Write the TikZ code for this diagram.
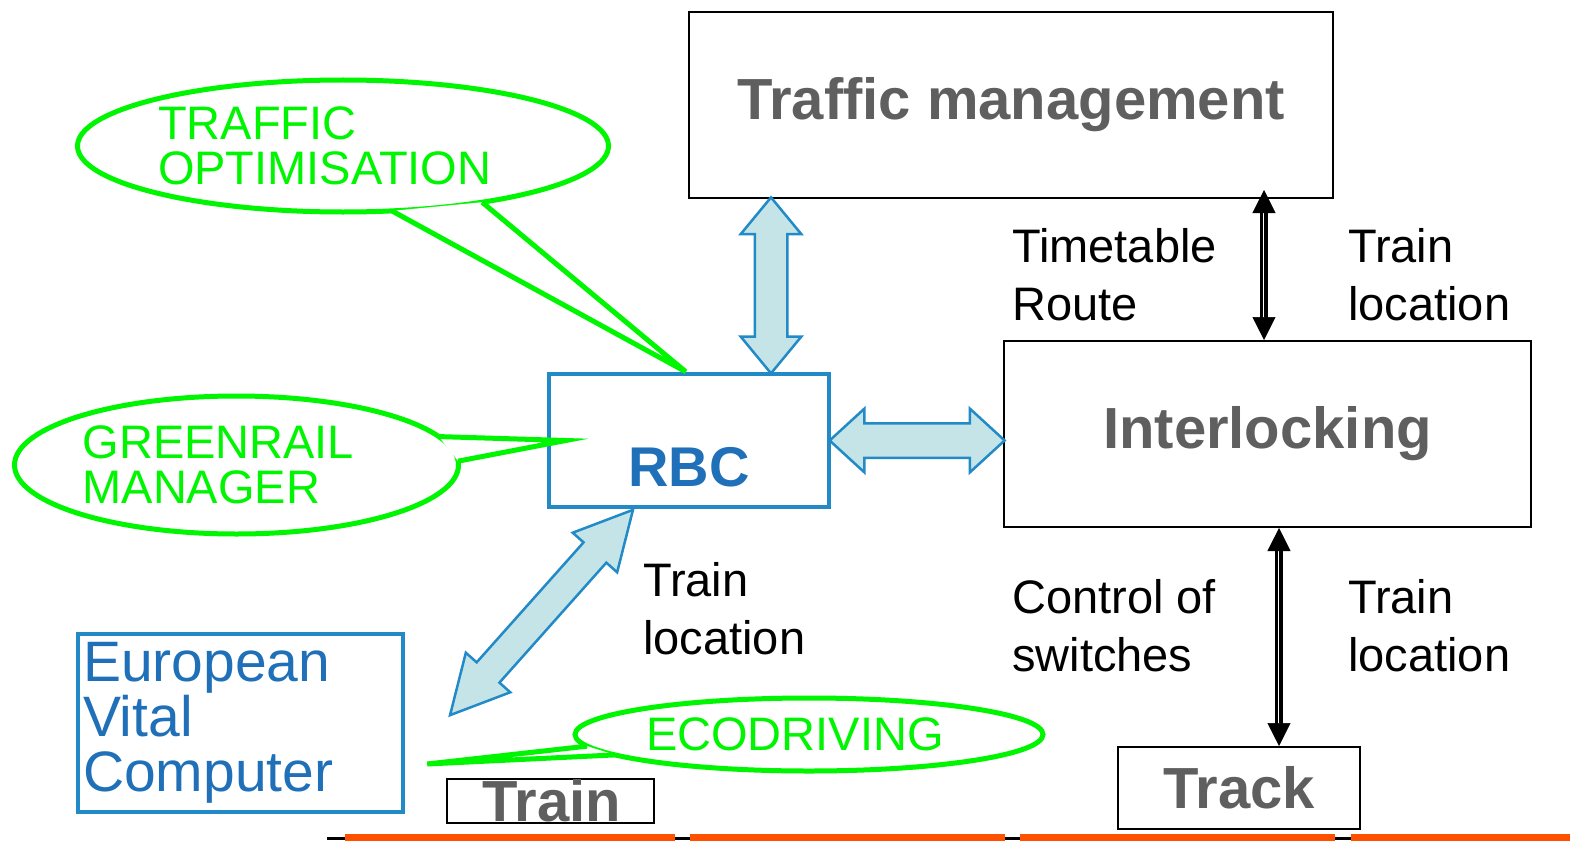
\documentclass[tikz,border=0pt]{standalone}
\usepackage{fontspec}
\setmainfont{Liberation Sans}
\usepackage{tikz}
\usetikzlibrary{arrows.meta,shapes.geometric,shapes.arrows,calc}

\definecolor{boxgray}{RGB}{95,95,95}
\definecolor{rbcblue}{RGB}{33,138,199}
\definecolor{rbctext}{RGB}{31,112,184}
\definecolor{pipefill}{RGB}{197,228,232}
\definecolor{calloutgreen}{RGB}{0,245,0}
\definecolor{railorange}{RGB}{255,80,0}

\tikzset{
	blackbox/.style={draw=black, line width=2pt, inner sep=0pt, text=boxgray,
		font=\fontsize{58}{58}\selectfont\bfseries},
	bluebox/.style={draw=rbcblue, line width=4.5pt, inner sep=0pt},
	fatarrow/.style={double arrow, draw=rbcblue, fill=pipefill, line width=2.5pt,
		inner xsep=0pt, outer sep=0pt, minimum width=0pt},
	callout/.style={ellipse, draw=calloutgreen, fill=white, line width=5pt,
		inner sep=0pt, outer sep=0pt, text=calloutgreen, align=left,
		font=\fontsize{47}{45}\selectfont},
	tail/.style={draw=calloutgreen, fill=white, line width=5pt},
	lbl/.style={inner sep=0pt, align=left, anchor=north west,
		font=\fontsize{47}{58}\selectfont},
	dbl/.style={double, double distance=2.7pt, line width=2.3pt,
		shorten <=20pt, shorten >=20pt},
	dtip/.style={{Triangle[length=23pt,width=23pt]}-{Triangle[length=23pt,width=23pt]},
		line width=0.5pt}
}

\begin{document}
\begin{tikzpicture}[x=1pt,y=-1pt]
	\useasboundingbox (0,0) rectangle (1570,840);
	\node[blackbox, minimum width=644, minimum height=186] (tm) at (1011,105) {Traffic management};
	\node[blackbox, minimum width=527, minimum height=186] (il) at (1267.5,434) {Interlocking};
	\node[blackbox, minimum width=242, minimum height=82] (track) at (1239,788) {Track};
	\node[blackbox, minimum width=207, minimum height=44] (train) at (550.5,801) {};
	\node[anchor=base, inner sep=0pt, text=boxgray, font=\fontsize{58}{58}\selectfont\bfseries]
		(traintext) at ([xshift=1.5pt,yshift=3pt]train.south) {Train};
	\node[bluebox, minimum width=280, minimum height=133] (rbc) at (689,440.5) {};
	\node[inner sep=0pt, text=rbctext, font=\fontsize{56}{56}\selectfont\bfseries]
		(rbctxt) at ([yshift=-26.5pt]rbc.center) {RBC};
	\node[bluebox, minimum width=325, minimum height=178, text width=315, align=left,
		text=rbctext, font=\fontsize{57}{55}\selectfont] (evc) at (240.5,723) {European\\Vital\\Computer};

	\node[lbl] (ttroute) at (1012,228) {Timetable\\Route};
	\node[lbl] (locup) at (1348,228) {Train\\location};
	\node[lbl] (switches) at (1012,579) {Control of\\switches};
	\node[lbl] (locdown) at (1348,579) {Train\\location};
	\node[lbl] (locrbc) at (643,562) {Train\\location};

	\path (tm.south west) ++(83,0) coordinate (tmport) (tmport |- rbc.north) coordinate (rbcport);
	\node[fatarrow, minimum height=176, inner ysep=15pt, double arrow head extend=14,
		double arrow tip angle=79, rotate=90] (tmrbc) at ($(tmport)!.5!(rbcport)$) {};
	\node[fatarrow, minimum height=175, inner ysep=16pt, double arrow head extend=14.5,
		double arrow tip angle=85] (rbcil) at ($(rbc.east)!.5!(rbc.east -| il.west)$) {};
	\path (rbc.south west) ++(84,3) coordinate (rbcfoot) (evc.north east) ++(47,81) coordinate (evchead);
	\node[fatarrow, minimum height=275, inner ysep=14pt, double arrow head extend=14.5,
		double arrow tip angle=55, rotate=48.3] (rbcevc) at ($(rbcfoot)!.5!(evchead)$) {};

	\path ([xshift=-3.5pt]il.north) coordinate (ilup) (ilup |- tm.south) ++(0,-9) coordinate (tmdown);
	\draw[dbl] (tmdown) -- (ilup);
	\draw[dtip] (tmdown) -- (ilup);
	\path ([xshift=11.5pt]il.south) coordinate (ildown) (ildown |- track.north) coordinate (trackup);
	\draw[dbl] (ildown) -- (trackup);
	\draw[dtip] (ildown) -- (trackup);

	\node[callout, minimum width=531, minimum height=132, text width=370] (opt) at (343,146) {TRAFFIC\\OPTIMISATION};
	\coordinate (opttip) at ([xshift=139pt]rbc.north west);
	\draw[tail] (opt.-53.6) -- (opttip) -- (opt.-22.2);
	\node[callout, minimum width=444, minimum height=138, text width=308] (grm) at (236.5,465) {GREENRAIL\\MANAGER};
	\coordinate (grmtip) at ([xshift=19pt]rbc.west);
	\draw[tail] (grm.8.5) -- (grmtip) -- (grm.1.3);
	\node[callout, minimum width=468, minimum height=73, text width=326] (eco) at (809,734.5) {ECODRIVING};
	\coordinate (ecotip) at ([xshift=22pt,yshift=-41pt]evc.east);
	\draw[tail] (eco.183.3) -- (ecotip) -- (eco.186.6);

	\draw[line width=3pt] (327,838.5) -- (1570,838.5);
	\foreach \a/\b in {345/675,690/1005,1020/1335,1351/1572}
		\fill[railorange] (\a,834) rectangle (\b,841);
\end{tikzpicture}
\end{document}
